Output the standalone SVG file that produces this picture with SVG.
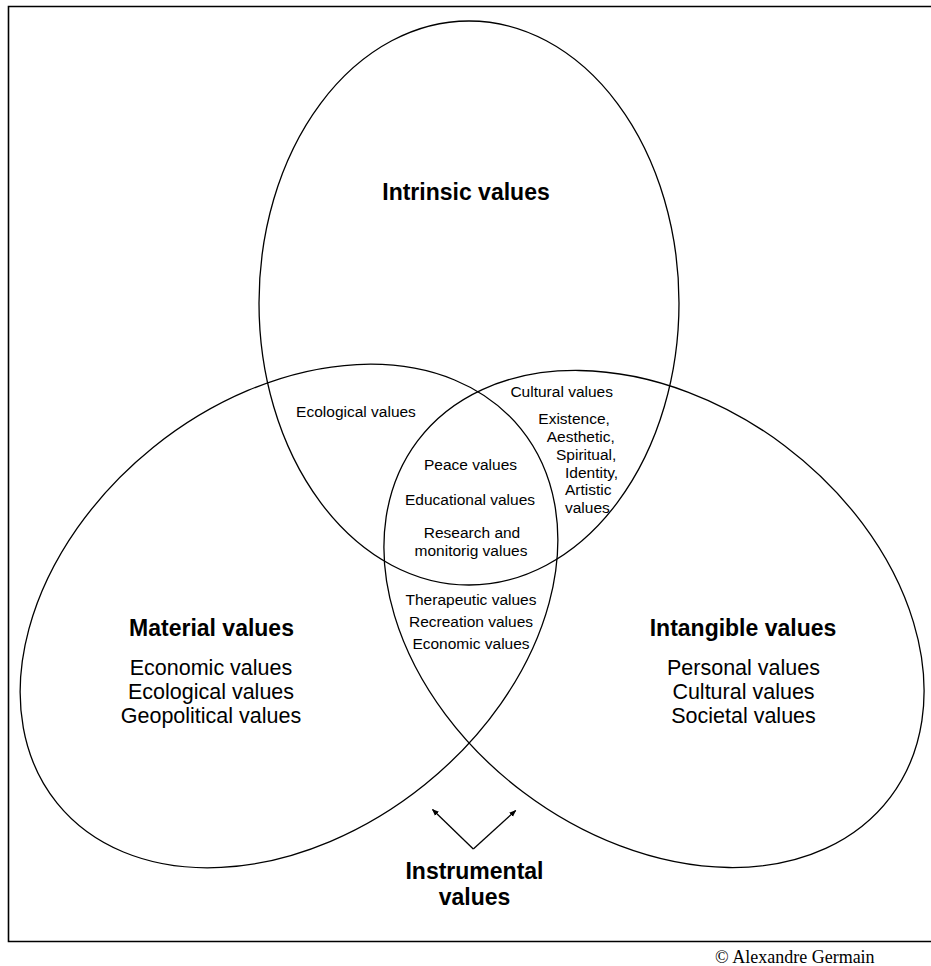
<svg xmlns="http://www.w3.org/2000/svg" width="931" height="966" viewBox="0 0 931 966">
  <style>
    .shape { fill: none; stroke: #000; stroke-width: 1.3; }
    .t { font-family: "Liberation Sans", Arial, sans-serif; fill: #000; text-anchor: middle; }
    .title { font-size: 23px; font-weight: bold; }
    .big { font-size: 21.5px; }
    .small { font-size: 15.5px; }
    .conn { stroke: #000; stroke-width: 1.3; fill: none; marker-end: url(#arrow); }
  </style>
  <defs>
    <marker id="arrow" viewBox="0 0 10 10" refX="9" refY="5" markerWidth="7" markerHeight="7" markerUnits="userSpaceOnUse" orient="auto">
      <path d="M0,1 L10,5 L0,9 Z" fill="#000"/>
    </marker>
  </defs>
  <rect x="0" y="0" width="931" height="966" fill="#fff"/>
  <path id="frame" d="M938,6.5 H8.5 V941.5 H938" fill="none" stroke="#000" stroke-width="1.6"/>

  <g id="intrinsic">
    <ellipse class="shape" cx="469" cy="303" rx="210" ry="282"/>
    <text class="t title" x="466" y="200">Intrinsic values</text>
  </g>

  <g id="material">
    <ellipse class="shape" cx="289" cy="616" rx="298" ry="216.5" transform="rotate(-38.9 289 616)"/>
    <text class="t title" x="211.5" y="636">Material values</text>
    <text class="t big" x="211" y="675">Economic values</text>
    <text class="t big" x="211" y="699">Ecological values</text>
    <text class="t big" x="211" y="723">Geopolitical values</text>
  </g>

  <g id="intangible">
    <ellipse class="shape" cx="654" cy="619" rx="296" ry="217" transform="rotate(37 654 619)"/>
    <text class="t title" x="743" y="636">Intangible values</text>
    <text class="t big" x="743.5" y="675">Personal values</text>
    <text class="t big" x="743.5" y="699">Cultural values</text>
    <text class="t big" x="743.5" y="723">Societal values</text>
  </g>

  <g id="intrinsic-material">
    <text class="t small" x="356" y="417">Ecological values</text>
  </g>

  <g id="intrinsic-intangible">
    <text class="t small" x="561.7" y="397">Cultural values</text>
    <text class="t small" x="538.3" y="424" style="text-anchor:start">Existence,</text>
    <text class="t small" x="546.7" y="442" style="text-anchor:start">Aesthetic,</text>
    <text class="t small" x="556" y="460" style="text-anchor:start">Spiritual,</text>
    <text class="t small" x="565" y="477.5" style="text-anchor:start">Identity,</text>
    <text class="t small" x="565" y="495" style="text-anchor:start">Artistic</text>
    <text class="t small" x="565" y="512.5" style="text-anchor:start">values</text>
  </g>

  <g id="center">
    <text class="t small" x="470.5" y="470">Peace values</text>
    <text class="t small" x="470" y="505">Educational values</text>
    <text class="t small" x="472" y="538">Research and</text>
    <text class="t small" x="471" y="556">monitorig values</text>
  </g>

  <g id="material-intangible">
    <text class="t small" x="471" y="605">Therapeutic values</text>
    <text class="t small" x="471" y="627">Recreation values</text>
    <text class="t small" x="471" y="649">Economic values</text>
  </g>

  <g id="instrumental">
    <text class="t title" x="474.5" y="879">Instrumental</text>
    <text class="t title" x="474.5" y="905">values</text>
  </g>

  <g id="connectors">
    <line class="conn" x1="473.3" y1="849" x2="432.5" y2="809.5"/>
    <line class="conn" x1="473.3" y1="849" x2="515.7" y2="810.5"/>
  </g>

  <g id="copyright">
    <text x="715" y="963" font-family="'Liberation Serif', 'Times New Roman', serif" font-size="18">© Alexandre Germain</text>
  </g>
</svg>
